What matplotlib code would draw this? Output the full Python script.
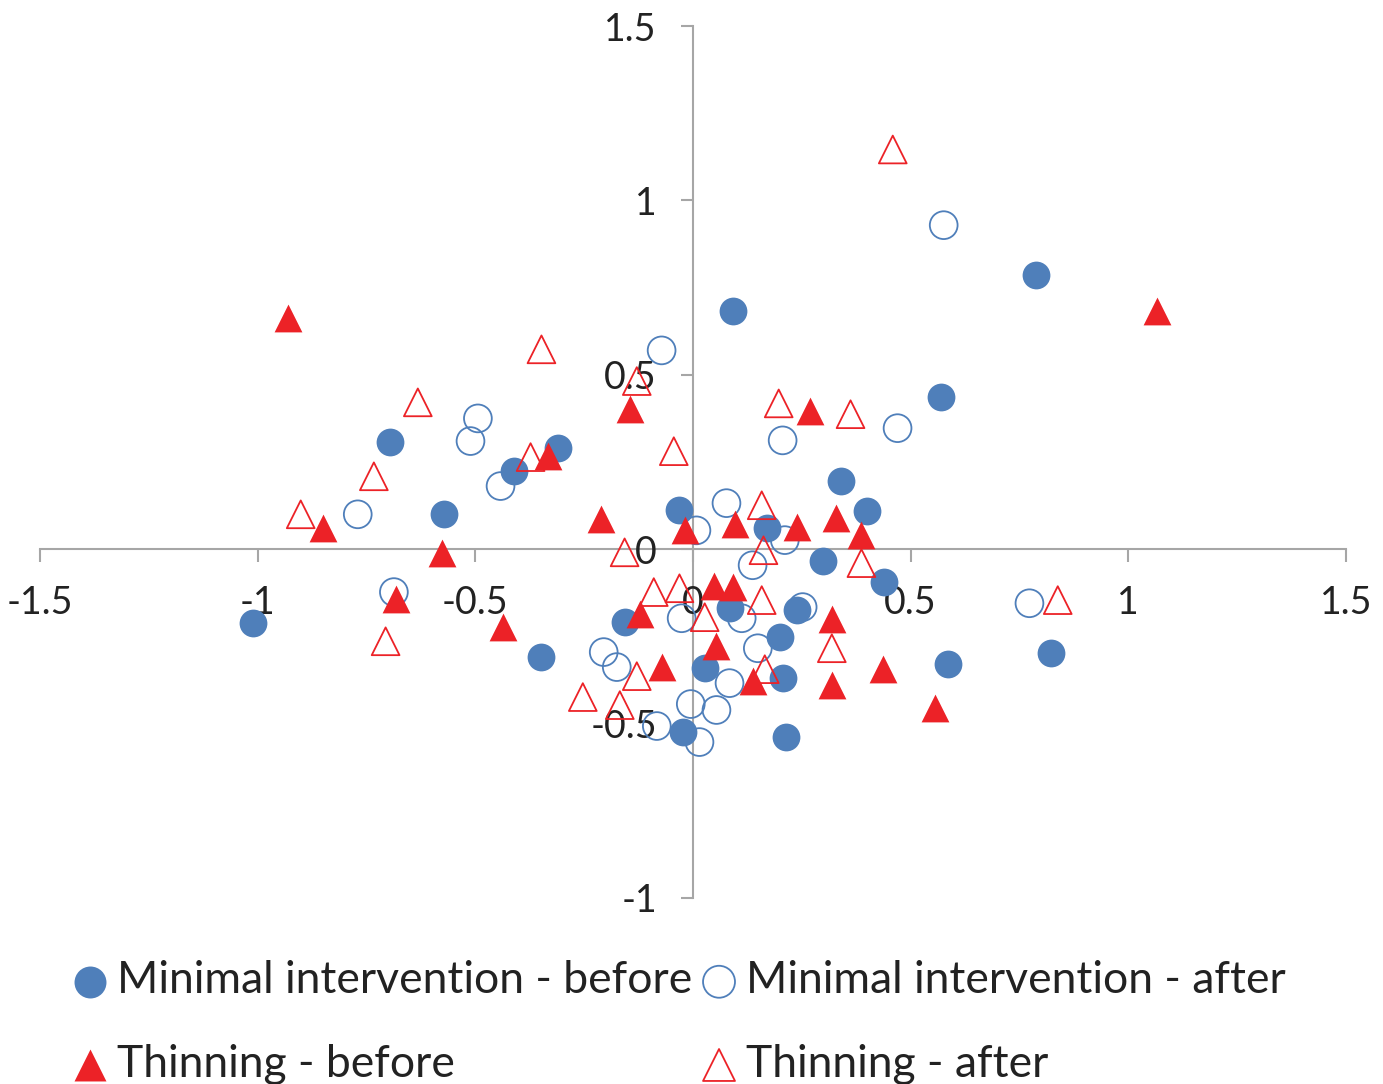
import matplotlib.pyplot as plt

plt.rcParams['font.family'] = ['Lato', 'DejaVu Sans']

# Minimal intervention - before (filled circles)
mi_before_x = [-1.011, -0.697, -0.573, -0.410, -0.311, -0.348, -0.157, -0.031, 0.093, 0.169,
               0.027, 0.084, -0.024, 0.213, 0.199, 0.238, 0.208, 0.298, 0.339, 0.399,
               0.438, 0.569, 0.789, 0.587, 0.822]
mi_before_y = [-0.212, 0.307, 0.100, 0.224, 0.289, -0.310, -0.209, 0.112, 0.682, 0.060,
               -0.341, -0.169, -0.525, -0.539, -0.252, -0.175, -0.370, -0.034, 0.195, 0.109,
               -0.095, 0.436, 0.785, -0.330, -0.298]

# Minimal intervention - after (open circles)
mi_after_x = [-0.770, -0.687, -0.511, -0.494, -0.442, -0.072, -0.205, -0.175, -0.083, -0.005,
              0.015, 0.054, 0.084, -0.026, 0.008, 0.077, 0.112, 0.137, 0.149, 0.206,
              0.211, 0.252, 0.470, 0.576, 0.773]
mi_after_y = [0.100, -0.123, 0.310, 0.375, 0.181, 0.570, -0.295, -0.338, -0.507, -0.444,
              -0.553, -0.461, -0.384, -0.198, 0.054, 0.132, -0.198, -0.046, -0.284, 0.312,
              0.026, -0.166, 0.347, 0.929, -0.155]

# Thinning - before (filled triangles)
th_before_x = [-0.931, -0.850, -0.683, -0.577, -0.437, -0.334, -0.212, -0.145, -0.122, -0.072,
               -0.019, 0.048, 0.054, 0.093, 0.096, 0.137, 0.240, 0.270, 0.328, 0.319,
               0.319, 0.387, 0.436, 0.557, 1.065]
th_before_y = [0.662, 0.060, -0.143, -0.011, -0.224, 0.267, 0.086, 0.401, -0.186, -0.338,
               0.054, -0.106, -0.278, -0.109, 0.072, -0.378, 0.063, 0.396, 0.089, -0.201,
               -0.390, 0.040, -0.344, -0.456, 0.682]

# Thinning - after (open triangles)
th_after_x = [-0.901, -0.733, -0.706, -0.632, -0.373, -0.348, -0.253, -0.168, -0.157, -0.129,
              -0.129, -0.090, -0.044, -0.031, 0.027, 0.158, 0.162, 0.158, 0.165, 0.197,
              0.319, 0.362, 0.387, 0.459, 0.838]
th_after_y = [0.100, 0.209, -0.264, 0.421, 0.264, 0.573, -0.424, -0.447, -0.009, 0.482,
              -0.364, -0.123, 0.281, -0.112, -0.195, 0.126, -0.003, -0.146, -0.344, 0.418,
              -0.284, 0.387, -0.040, 1.146, -0.146]

blue = '#4F7FBA'
red = '#EC2227'
axis_grey = '#A6A6A6'
text_col = '#222222'

fig = plt.figure(figsize=(13.83, 10.84), dpi=100)
ax = fig.add_axes([0.0289, 0.1716, 0.9443, 0.8044])

h1 = ax.scatter(mi_before_x, mi_before_y, s=400, marker='o', color=blue, linewidths=0,
                label='Minimal intervention - before', zorder=3)
h2 = ax.scatter(mi_after_x, mi_after_y, s=400, marker='o', facecolors='none', edgecolors=blue,
                linewidths=1.3, label='Minimal intervention - after', zorder=4)
h3 = ax.scatter(th_before_x, th_before_y, s=400, marker='^', color=red, linewidths=0,
                label='Thinning - before', zorder=5)
h4 = ax.scatter(th_after_x, th_after_y, s=400, marker='^', facecolors='none', edgecolors=red,
                linewidths=1.3, label='Thinning - after', zorder=6)

ax.set_xlim(-1.5, 1.5)
ax.set_ylim(-1, 1.5)
ax.set_xticks([-1.5, -1, -0.5, 0, 0.5, 1, 1.5])
ax.set_xticklabels(['-1.5', '-1', '-0.5', '0', '0.5', '1', '1.5'])
ax.set_yticks([-1, -0.5, 0, 0.5, 1, 1.5])
ax.set_yticklabels(['-1', '-0.5', '0', '0.5', '1', '1.5'])

for side in ['top', 'right']:
    ax.spines[side].set_visible(False)
ax.spines['left'].set_position(('data', 0))
ax.spines['bottom'].set_position(('data', 0))
for side in ['left', 'bottom']:
    ax.spines[side].set_color(axis_grey)
    ax.spines[side].set_linewidth(1.5)
    ax.spines[side].set_zorder(1)
ax.tick_params(direction='out', length=9, width=1.5, color=axis_grey,
               labelsize=27, labelcolor=text_col, pad=17)
ax.patch.set_visible(False)

fig.legend([h1, h3, h2, h4],
           ['Minimal intervention - before', 'Thinning - before',
            'Minimal intervention - after', 'Thinning - after'],
           loc='upper left', bbox_to_anchor=(0.049, 0.114), ncol=2, frameon=False,
           fontsize=32, handlelength=1.0, handletextpad=0.1, columnspacing=0.11,
           labelspacing=0.95, borderpad=0, borderaxespad=0, markerscale=1.15,
           scatterpoints=1, labelcolor=text_col)

fig.savefig('out.png', dpi=100)
